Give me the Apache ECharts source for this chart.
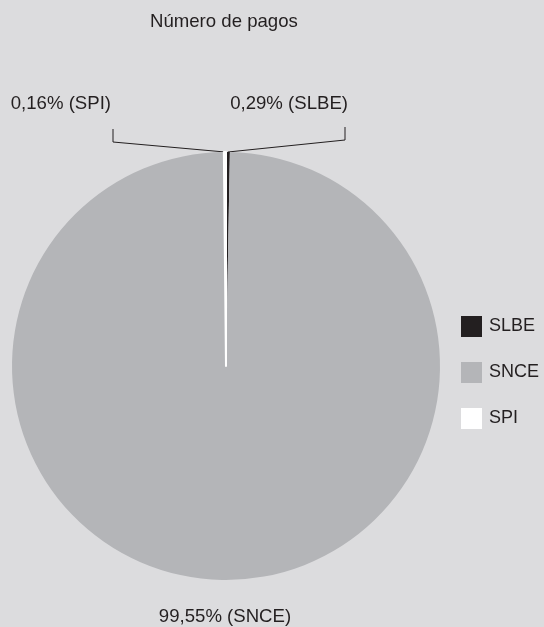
<!DOCTYPE html>
<html>
<head>
<meta charset="utf-8">
<script src="https://cdn.jsdelivr.net/npm/echarts@6/dist/echarts.min.js"></script>
<style>
html,body{margin:0;padding:0;background:#dcdcde;}
#chart{width:544px;height:627px;}
</style>
</head>
<body>
<div id="chart"></div>
<script>
// Data
var categories = ['SLBE', 'SNCE', 'SPI'];
var values = [0.29, 99.55, 0.16];
var labelTexts = ['0,29% (SLBE)', '99,55% (SNCE)', '0,16% (SPI)'];
var colors = ['#231f20', '#b4b5b8', '#ffffff'];

// Layout constants
var CX = 226, CY = 366, R = 214;
var FONT = '"Liberation Sans", Arial, sans-serif';
var TEXT = '#231f20';

var chart = echarts.init(document.getElementById('chart'), null, {renderer: 'canvas'});

var seriesData = categories.map(function (c, i) {
  var item = {
    name: c,
    value: values[i],
    itemStyle: {color: colors[i]},
    labelLine: {show: c !== 'SNCE'}
  };
  if (c === 'SPI') {
    item.itemStyle.borderColor = colors[i];
    item.itemStyle.borderWidth = 2;
  }
  return item;
});

// label placement relative to the pie (layout only)
var labelPlacement = {
  SLBE: {x: CX + 122, y: CY - 262, align: 'right', lx: CX + 119, ly1: CY - 226, ly2: CY - 239},
  SPI:  {x: CX - 115, y: CY - 262, align: 'right', lx: CX - 113, ly1: CY - 224, ly2: CY - 237},
  SNCE: {x: CX - 1, y: CY + 251, align: 'center'}
};

var option = {
  backgroundColor: '#dcdcde',
  animation: false,
  title: {
    text: 'Número de pagos',
    left: 150,
    top: 12,
    padding: 0,
    textStyle: {fontFamily: FONT, fontSize: 18.6, fontWeight: 'normal', color: TEXT}
  },
  legend: {
    orient: 'vertical',
    left: 461,
    top: 316,
    padding: 0,
    itemWidth: 21,
    itemHeight: 21,
    itemGap: 25,
    icon: 'rect',
    data: categories,
    itemStyle: {borderWidth: 0},
    textStyle: {fontFamily: FONT, fontSize: 18, color: TEXT, padding: [0, 0, 0, 2]}
  },
  series: [{
    type: 'pie',
    center: [CX, CY],
    radius: [0, R],
    startAngle: 90,
    clockwise: true,
    avoidLabelOverlap: false,
    itemStyle: {borderWidth: 0},
    emphasis: {disabled: true},
    label: {
      show: true,
      position: 'outside',
      fontFamily: FONT,
      fontSize: 18.6,
      color: TEXT,
      formatter: function (p) { return labelTexts[p.dataIndex]; }
    },
    labelLine: {show: true, length: 10, length2: 10, lineStyle: {color: TEXT, width: 1}},
    labelLayout: function (params) {
      var name = categories[params.dataIndex];
      var pl = labelPlacement[name];
      var out = {x: pl.x, y: pl.y, align: pl.align, verticalAlign: 'middle'};
      if (pl.lx != null && params.labelLinePoints) {
        var p0 = params.labelLinePoints[0];
        out.labelLinePoints = [[p0[0], p0[1]], [pl.lx, pl.ly1], [pl.lx, pl.ly2]];
      }
      return out;
    },
    data: seriesData
  }]
};
chart.setOption(option);
</script>
</body>
</html>
